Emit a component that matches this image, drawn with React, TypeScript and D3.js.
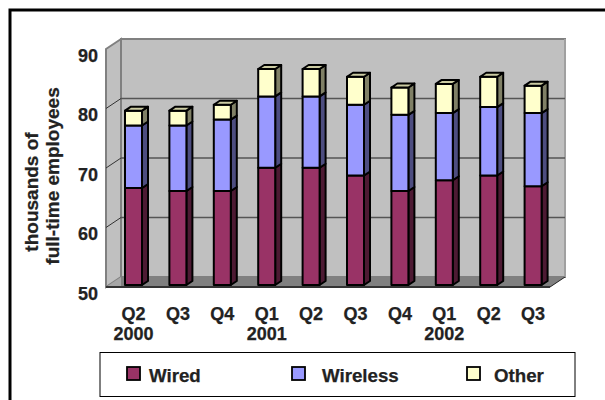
import React from "react";
import * as d3 from "d3";

const quarters = ["Q2", "Q3", "Q4", "Q1", "Q2", "Q3", "Q4", "Q1", "Q2", "Q3"];
const years = ["2000", "", "", "2001", "", "", "", "2002", "", ""];
const wired = [66.3, 65.8, 65.8, 69.7, 69.7, 68.4, 65.8, 67.6, 68.4, 66.6];
const wireless = [10.5, 11, 12, 12, 12, 11.9, 12.8, 11.3, 11.5, 12.3];
const other = [2.5, 2.5, 2.5, 4.6, 4.6, 4.7, 4.6, 4.9, 5.1, 4.6];
const seriesNames = ["Wired", "Wireless", "Other"];
const yTicks = [50, 60, 70, 80, 90];

const faceColors = ["#993366", "#9999FF", "#FFFFCC"];
const sideColors = ["#4D1A33", "#4D4D80", "#808066"];
const topColors = ["#7A2952", "#7A7ACC", "#CCCCA3"];
const legendSwatchX = [127, 292, 467];
const legendTextX = [149, 322, 494];
const FONT = "'Liberation Sans', Arial, sans-serif";

export default function App() {
  const x = d3.scaleBand<number>().domain(d3.range(quarters.length)).range([106, 550]);
  const y = d3.scaleLinear().domain([50, 90]).range([287, 49]);
  const barW = 17;
  const dx = 6, dy = -4;
  const wallDx = 15, wallDy = -10;
  const rows = quarters.map((_, i) => ({ i, Wired: wired[i], Wireless: wireless[i], Other: other[i] }));
  const stacked = d3.stack<any>().keys(seriesNames)(rows);
  const left = 106, right = 550, bottom = y(50), top = y(90);
  const textFill = "#222";
  const textProps = { fill: textFill, stroke: textFill, strokeWidth: 0.25, fontWeight: "bold" as const };

  return (
    <svg width={605} height={400} style={{ position: "absolute", left: 0, top: 0, background: "#fff" }} fontFamily={FONT}>
      <rect x={10} y={10} width={700} height={500} fill="#fff" stroke="#000" strokeWidth={3} />
      {/* walls */}
      <polygon points={`${left + wallDx},${top + wallDy} ${right + wallDx},${top + wallDy} ${right + wallDx},${bottom + wallDy} ${left + wallDx},${bottom + wallDy}`} fill="#C0C0C0" stroke="#808080" strokeWidth={2} />
      <polygon points={`${left},${top} ${left + wallDx},${top + wallDy} ${left + wallDx},${bottom + wallDy} ${left},${bottom}`} fill="#C0C0C0" stroke="#808080" strokeWidth={2} />
      <polygon points={`${left},${bottom} ${left + wallDx},${bottom + wallDy} ${right + wallDx},${bottom + wallDy} ${right},${bottom}`} fill="#808080" />
      <polygon points={`${left},${bottom} ${left + wallDx},${bottom + wallDy} ${left + wallDx},${bottom}`} fill="#A6A6A6" />
      <line x1={right + wallDx} x2={right + wallDx} y1={top + wallDy} y2={bottom + wallDy} stroke="#A0A0A0" strokeWidth={2} />
      {/* gridlines */}
      {yTicks.slice(1, 4).map((t) => (
        <g key={t}>
          <line x1={left + wallDx} x2={right + wallDx} y1={y(t) + wallDy} y2={y(t) + wallDy} stroke="#555" strokeWidth={1.5} />
          <line x1={left} x2={left + wallDx} y1={y(t)} y2={y(t) + wallDy} stroke="#333" strokeWidth={1} />
        </g>
      ))}
      <line x1={left} x2={right} y1={bottom} y2={bottom} stroke="#333" strokeWidth={2} />
      <line x1={right} x2={right + wallDx} y1={bottom} y2={bottom + wallDy} stroke="#222" strokeWidth={1} />
      {/* bars */}
      {rows.map((r) => {
        const bx = (x(r.i) as number) + 19;
        return (
          <g key={r.i} stroke="#000" strokeWidth={2} strokeLinejoin="round">
            {stacked.map((s, si) => {
              const lo = y(Math.max(50, s[r.i][0])) - 2;
              const hi = y(s[r.i][1]) - 2;
              return (
                <g key={si}>
                  <polygon points={`${bx + barW},${lo} ${bx + barW + dx},${lo + dy} ${bx + barW + dx},${hi + dy} ${bx + barW},${hi}`} fill={sideColors[si]} />
                  <rect x={bx} y={hi} width={barW} height={lo - hi} fill={faceColors[si]} />
                  {si === 2 && (
                    <polygon points={`${bx},${hi} ${bx + dx},${hi + dy} ${bx + barW + dx},${hi + dy} ${bx + barW},${hi}`} fill={topColors[si]} />
                  )}
                </g>
              );
            })}
          </g>
        );
      })}
      {/* y tick labels */}
      {yTicks.map((t) => (
        <text key={t} x={98} y={y(t) + 12.5} textAnchor="end" fontSize={18} {...textProps}>{t}</text>
      ))}
      {/* axis title */}
      <text transform="translate(38,192) rotate(-90)" textAnchor="middle" fontSize={19} {...textProps}>thousands of</text>
      <text transform="translate(59,176) rotate(-90)" textAnchor="middle" fontSize={19} {...textProps}>full-time employees</text>
      {/* x labels */}
      {quarters.map((q, i) => {
        const cx = (x(i) as number) + 19 + barW / 2;
        return (
          <g key={i} fontSize={18} textAnchor="middle" {...textProps}>
            <text x={cx} y={320}>{q}</text>
            {years[i] && <text x={cx} y={340}>{years[i]}</text>}
          </g>
        );
      })}
      {/* legend */}
      <rect x={100} y={352.5} width={475} height={44} fill="#fff" stroke="#000" strokeWidth={1} />
      {seriesNames.map((n, i) => (
        <g key={n}>
          <rect x={legendSwatchX[i]} y={367} width={13} height={13} fill={faceColors[i]} stroke="#000" strokeWidth={1.8} />
          <text x={legendTextX[i]} y={382} fontSize={18.7} {...textProps}>{n}</text>
        </g>
      ))}
    </svg>
  );
}
